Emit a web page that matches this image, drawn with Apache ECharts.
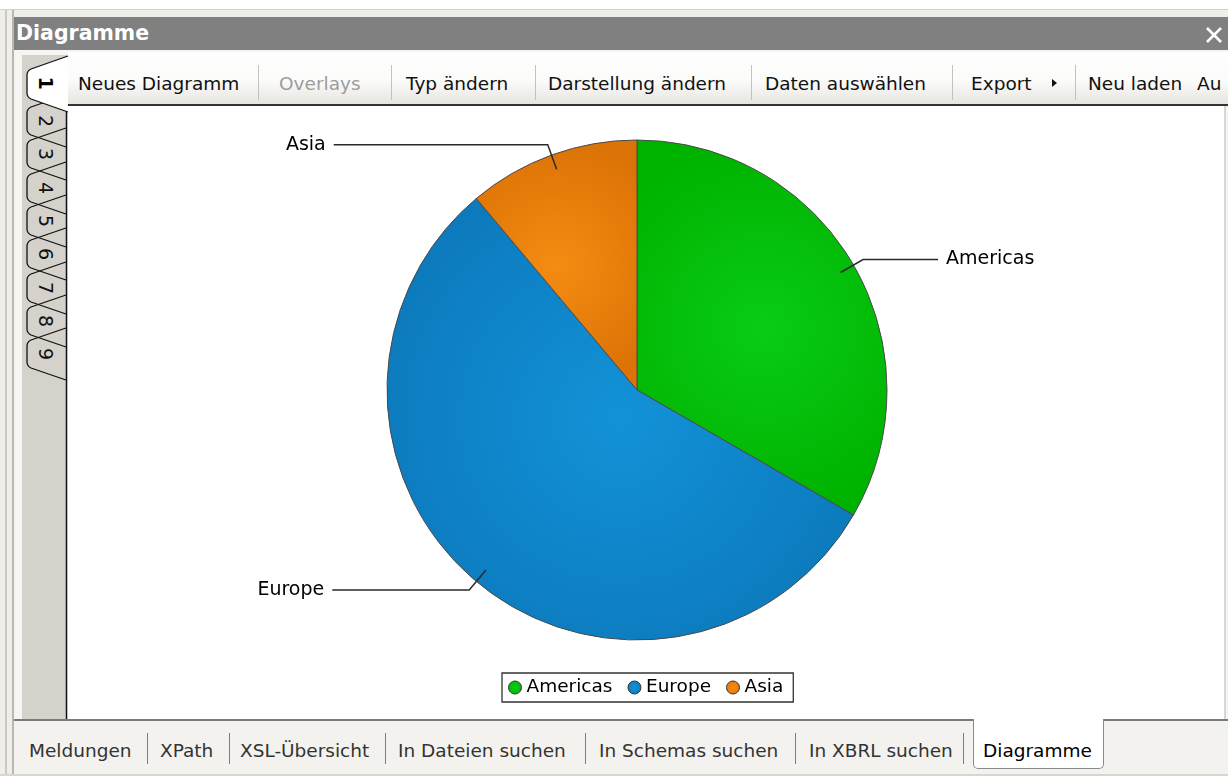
<!DOCTYPE html>
<html>
<head>
<meta charset="utf-8">
<script src="https://cdn.jsdelivr.net/npm/echarts@6/dist/echarts.min.js"></script>
<style>
html,body{margin:0;padding:0;width:1228px;height:776px;overflow:hidden;background:#fff;font-family:"DejaVu Sans",sans-serif;}
.a{position:absolute;}
.tb{position:absolute;top:65px;height:38px;line-height:38px;font-size:18.5px;color:#111;white-space:nowrap;}
.sep{position:absolute;top:65px;width:1px;height:35px;background:#c4c2bc;}
.bt{position:absolute;top:732px;height:38px;line-height:38px;font-size:18.5px;color:#333;white-space:nowrap;}
.bsep{position:absolute;top:733px;width:1px;height:31px;background:#7d7d7d;}
</style>
</head>
<body>
<div class="a" style="left:0;top:9px;width:1228px;height:767px;background:#efeee9;border-top:1px solid #d2d0c9;"></div>
<div class="a" style="left:5px;top:10px;width:2px;height:766px;background:#cbc9c2;"></div>
<div class="a" style="left:12px;top:10px;width:2px;height:766px;background:#b9b7b0;"></div>
<div class="a" style="left:14px;top:17px;width:1214px;height:33px;background:#808080;"></div>
<div class="a" style="left:16px;top:17px;height:33px;line-height:33px;font-size:20.5px;font-weight:bold;color:#fff;">Diagramme</div>
<svg class="a" style="left:1204px;top:26px;" width="20" height="18"><path d="M3,2 L17,16 M17,2 L3,16" stroke="#fff" stroke-width="2.6"/></svg>
<div class="a" style="left:14px;top:50px;width:1214px;height:670px;background:#f6f5f2;"></div>
<!-- toolbar -->
<div class="a" style="left:68px;top:52px;width:1160px;height:52px;background:linear-gradient(#ffffff 0%,#fbfbfa 55%,#e7e5e0 100%);border-bottom:2px solid #333;"></div>
<div id="toolbar"></div>
<!-- side tab strip -->
<div class="a" style="left:22px;top:55px;width:45px;height:665px;background:#d5d2cb;"></div>
<svg id="tabs" class="a" style="left:0;top:0;" width="80" height="776"></svg>
<!-- chart area -->
<div id="chart" class="a" style="left:68px;top:106px;width:1156px;height:613px;background:#fff;"></div>
<div class="a" style="left:1224px;top:106px;width:2px;height:614px;background:#d9d7d1;"></div>
<!-- bottom bar -->
<div class="a" style="left:14px;top:719px;width:1214px;height:2px;background:#7a7a7a;"></div>
<div class="a" style="left:14px;top:721px;width:1214px;height:53px;background:#f3f2ee;"></div>
<div class="a" style="left:0;top:774px;width:1228px;height:2px;background:#d8d6cf;"></div>
<div class="a" style="left:973px;top:719px;width:129px;height:49px;background:#fff;border:1px solid #8a8a8a;border-top:none;border-radius:0 0 5px 5px;"></div>
<div id="bottombar"></div>

<script>
// ---- data ----
const categories = ['Americas', 'Europe', 'Asia'];
const values = [30, 50, 10];

// ---- window chrome texts ----
const toolbarItems = ['Neues Diagramm', 'Overlays', 'Typ ändern', 'Darstellung ändern', 'Daten auswählen', 'Export', 'Neu laden', 'Au'];
const toolbarX = [78, 279, 406, 548, 765, 971, 1088, 1197];
const toolbarSepX = [258, 391, 535, 751, 952, 1075];
const bottomTabs = ['Meldungen', 'XPath', 'XSL-Übersicht', 'In Dateien suchen', 'In Schemas suchen', 'In XBRL suchen', 'Diagramme'];
const bottomX = [29, 160, 240, 398, 599, 809, 983];
const bottomSepX = [147, 229, 385, 585, 795, 963];
const sideTabs = ['1', '2', '3', '4', '5', '6', '7', '8', '9'];
const sideTabCenters = [83, 121, 154, 188, 221, 254, 288, 321, 354];

// toolbar
let h = '';
toolbarItems.forEach((t, i) => {
  const col = t === 'Overlays' ? '#9c9c9c' : '#111';
  h += '<div class="tb" style="left:' + toolbarX[i] + 'px;color:' + col + '">' + t + '</div>';
});
toolbarSepX.forEach(x => { h += '<div class="sep" style="left:' + x + 'px"></div>'; });
h += '<svg class="a" style="left:1050px;top:77px" width="10" height="12"><path d="M2,2 L7,6 L2,10 Z" fill="#111"/></svg>';
document.getElementById('toolbar').innerHTML = h;

// bottom bar
h = '';
bottomTabs.forEach((t, i) => {
  const col = t === 'Diagramme' ? '#000' : '#333';
  h += '<div class="bt" style="left:' + bottomX[i] + 'px;color:' + col + '">' + t + '</div>';
});
bottomSepX.forEach(x => { h += '<div class="bsep" style="left:' + x + 'px"></div>'; });
document.getElementById('bottombar').innerHTML = h;

// side tabs
let s = '';
for (let i = sideTabs.length - 1; i >= 1; i--) {
  const c = sideTabCenters[i], t = c - 17, b = c + 17;
  s += '<path d="M66,' + (t - 9) + ' L31,' + (t + 3) + ' Q27,' + (t + 5) + ' 27,' + (t + 9) + ' L27,' + (b - 9) + ' Q27,' + (b - 5) + ' 31,' + (b - 3) + ' L66,' + (b + 9) + '" fill="none" stroke="#111" stroke-width="1.3"/>';
  s += '<text x="0" y="0" transform="translate(46,' + c + ') rotate(90)" text-anchor="middle" dominant-baseline="central" font-family="DejaVu Sans" font-size="19" fill="#111">' + sideTabs[i] + '</text>';
}
s += '<path d="M66.5,112 L66.5,720" stroke="#111" stroke-width="1.5"/>';
s += '<path d="M68,56 L31,69 Q27,71 27,75 L27,93 Q27,97 31,99 L68,112 Z" fill="#fff" stroke="none"/>';
s += '<path d="M68,56 L31,69 Q27,71 27,75 L27,93 Q27,97 31,99 L68,112" fill="none" stroke="#111" stroke-width="1.3"/>';
s += '<text x="0" y="0" transform="translate(46,' + sideTabCenters[0] + ') rotate(90)" text-anchor="middle" dominant-baseline="central" font-family="DejaVu Sans" font-weight="bold" font-size="19" fill="#000">' + sideTabs[0] + '</text>';
document.getElementById('tabs').innerHTML = s;

// ---- chart ----
function grad(c0, c1) {
  return { type: 'radial', x: 0.5, y: 0.5, r: 0.75, colorStops: [{ offset: 0, color: c0 }, { offset: 1, color: c1 }] };
}
const sliceColors = [grad('#08cc16', '#00b200'), grad('#1392d8', '#0a73b5'), grad('#f48c12', '#dc7306')];
const leaderLen2 = [75, 137, 214];

const chart = echarts.init(document.getElementById('chart'), null, { renderer: 'canvas' });
chart.setOption({
  animation: false,
  backgroundColor: 'transparent',
  legend: {
    left: 434, top: 567,
    orient: 'horizontal',
    icon: 'circle',
    itemWidth: 13, itemHeight: 13, itemGap: 15,
    padding: [5, 10, 5, 6],
    borderColor: '#333', borderWidth: 1.3,
    selectedMode: false,
    itemStyle: { borderColor: '#333', borderWidth: 1 },
    textStyle: { fontFamily: 'DejaVu Sans', fontSize: 18.5, color: '#000' },
    data: categories
  },
  series: [{
    // the filled pie
    type: 'pie',
    center: [569, 284],
    radius: 250,
    startAngle: 90,
    clockwise: true,
    emphasis: { disabled: true },
    itemStyle: { borderColor: '#4a4a4a', borderWidth: 1 },
    label: { show: false },
    labelLine: { show: false },
    data: categories.map((n, i) => ({ name: n, value: values[i], itemStyle: { color: sliceColors[i] } }))
  }, {
    // label leaders that begin just inside the pie edge
    type: 'pie',
    center: [569, 284],
    radius: 235,
    startAngle: 90,
    clockwise: true,
    silent: true,
    z: 3,
    avoidLabelOverlap: false,
    emphasis: { disabled: true },
    itemStyle: { color: 'rgba(0,0,0,0)', borderWidth: 0 },
    label: { show: true, color: '#000', fontFamily: 'DejaVu Sans', fontSize: 19, distanceToLabelLine: 8 },
    labelLine: { show: true, length: 26, smooth: false, lineStyle: { color: '#2a2a2a', width: 1.5 } },
    data: categories.map((n, i) => ({
      name: n,
      value: values[i],
      labelLine: { length2: leaderLen2[i] }
    }))
  }]
});
</script>
</body>
</html>
